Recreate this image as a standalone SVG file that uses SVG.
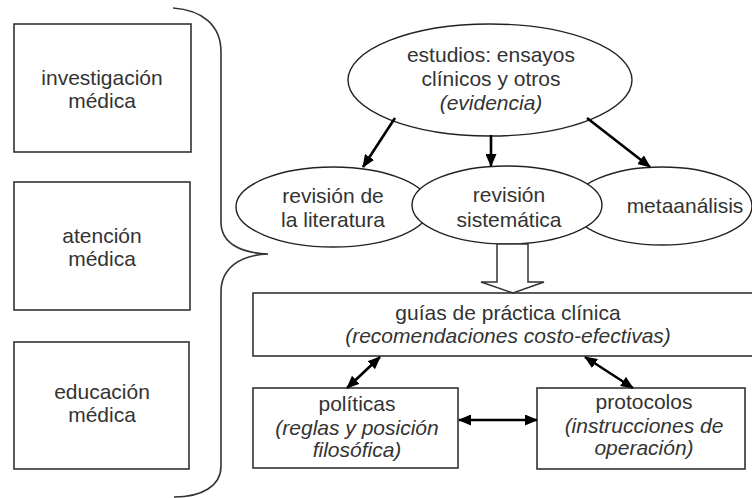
<svg xmlns="http://www.w3.org/2000/svg" width="752" height="498" viewBox="0 0 752 498">
<style>
.box{fill:#fff;stroke:#333;stroke-width:1.6}
.ell{fill:#fff;stroke:#222;stroke-width:1.4}
.t{font-family:"Liberation Sans",Arial,sans-serif;font-size:21px;fill:#333;text-anchor:middle}
.i{font-style:italic}
.arr{stroke:#000;stroke-width:2.6;fill:none}
.brace{fill:none;stroke:#333;stroke-width:1.6}
</style>
<defs>
<marker id="ah" markerUnits="userSpaceOnUse" markerWidth="13" markerHeight="11" refX="12" refY="5.5" orient="auto-start-reverse" viewBox="0 0 13 11">
<path d="M0,0 L13,5.5 L0,11 Z" fill="#000"/>
</marker>
</defs>
<rect width="752" height="498" fill="#fff"/>

<g id="investigacion">
<rect class="box" x="14" y="24" width="177" height="128"/>
<text class="t" x="102" y="85">investigación</text>
<text class="t" x="102" y="108">médica</text>
</g>
<g id="atencion">
<rect class="box" x="14" y="182" width="176" height="128"/>
<text class="t" x="102" y="243">atención</text>
<text class="t" x="102" y="266">médica</text>
</g>
<g id="educacion">
<rect class="box" x="14" y="342" width="175" height="127"/>
<text class="t" x="102" y="399">educación</text>
<text class="t" x="102" y="422">médica</text>
</g>

<g id="llave">
<path class="brace" d="M173,8 C202,10 221,25 221,52 L221,222 C221,243 240,253 268,254 C240,255 221,268 221,292 L221,466 C221,486 202,497 174,497"/>
</g>

<g id="estudios">
<ellipse class="ell" cx="490" cy="80" rx="142" ry="56"/>
<text class="t" x="491" y="62">estudios: ensayos</text>
<text class="t" x="491" y="86">clínicos y otros</text>
<text class="t i" x="491" y="110">(evidencia)</text>
</g>

<g id="revision-literatura">
<ellipse class="ell" cx="333" cy="207" rx="97" ry="40"/>
<text class="t" x="333" y="203">revisión de</text>
<text class="t" x="333" y="227">la literatura</text>
</g>
<g id="metaanalisis">
<ellipse class="ell" cx="662" cy="206" rx="90" ry="39"/>
<text class="t" x="685" y="213">metaanálisis</text>
</g>
<g id="revision-sistematica">
<ellipse class="ell" cx="507" cy="205" rx="95" ry="39"/>
<text class="t" x="509" y="202">revisión</text>
<text class="t" x="509" y="227">sistemática</text>
</g>

<g id="guias">
<rect class="box" x="253" y="293" width="505" height="63"/>
<text class="t" x="508" y="320">guías de práctica clínica</text>
<text class="t i" x="508" y="343">(recomendaciones costo-efectivas)</text>
</g>
<g id="politicas">
<rect class="box" x="253" y="388" width="205" height="80"/>
<text class="t" x="357" y="411">políticas</text>
<text class="t i" x="357" y="435">(reglas y posición</text>
<text class="t i" x="357" y="457">filosófica)</text>
</g>
<g id="protocolos">
<rect class="box" x="537" y="388" width="208" height="81"/>
<text class="t" x="644" y="409">protocolos</text>
<text class="t i" x="644" y="433">(instrucciones de</text>
<text class="t i" x="644" y="455">operación)</text>
</g>

<g id="conectores">
<line class="arr" x1="395" y1="118" x2="363" y2="167" marker-end="url(#ah)"/>
<line class="arr" x1="491" y1="135" x2="491" y2="166" marker-end="url(#ah)"/>
<line class="arr" x1="587" y1="118" x2="650" y2="167" marker-end="url(#ah)"/>
<path d="M497,244 L528,244 L528,282 L544,282 L513,293 L481,282 L497,282 Z" fill="#fff" stroke="#333" stroke-width="1.5"/>
<line class="arr" x1="380" y1="357" x2="347" y2="388" marker-start="url(#ah)" marker-end="url(#ah)"/>
<line class="arr" x1="585" y1="357" x2="633" y2="388" marker-start="url(#ah)" marker-end="url(#ah)"/>
<line class="arr" x1="459" y1="420" x2="537" y2="420" marker-start="url(#ah)" marker-end="url(#ah)"/>
</g>
</svg>
